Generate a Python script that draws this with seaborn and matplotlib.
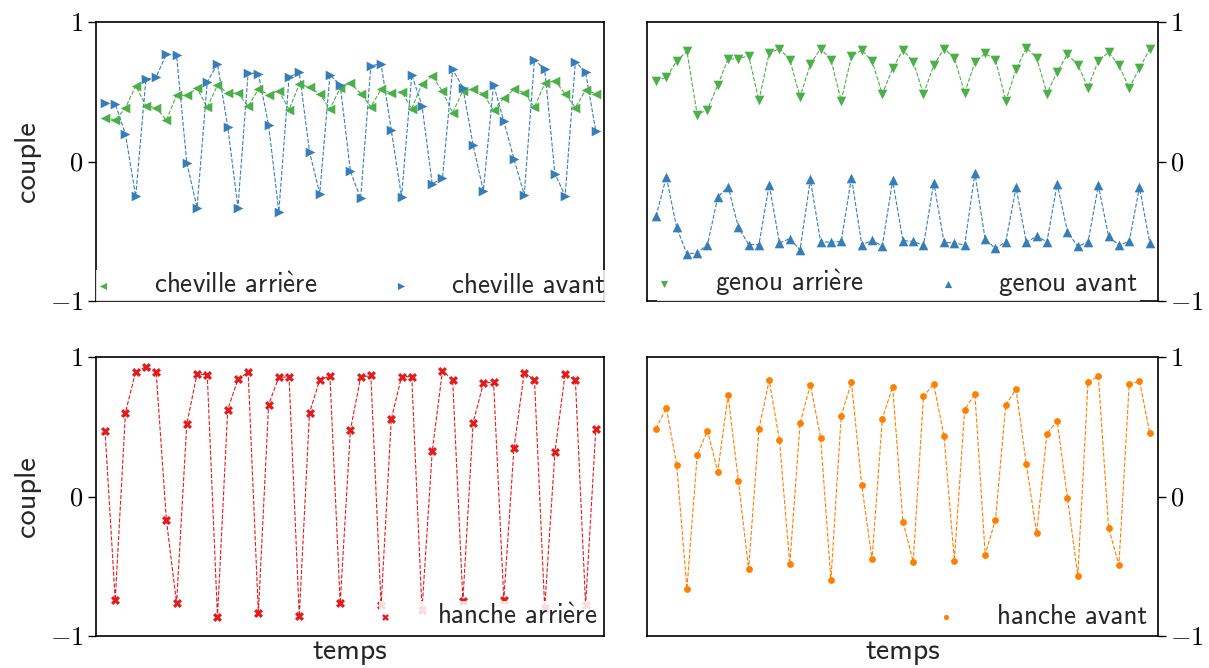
import matplotlib
matplotlib.use("Agg")
import matplotlib.pyplot as plt
import seaborn as sns
from matplotlib.ticker import FixedLocator, FixedFormatter

# ---------------- data ----------------
temps = list(range(1, 50))

cheville_arriere = [0.315, 0.298, 0.384, 0.543, 0.40, 0.386, 0.296, 0.475, 0.475, 0.525,
                    0.389, 0.547, 0.49, 0.49, 0.396, 0.517, 0.48, 0.508, 0.372, 0.553,
                    0.534, 0.484, 0.377, 0.527, 0.564, 0.487, 0.391, 0.517, 0.491, 0.50,
                    0.379, 0.556, 0.615, 0.503, 0.35, 0.508, 0.517, 0.484, 0.367, 0.455,
                    0.517, 0.494, 0.389, 0.56, 0.58, 0.484, 0.386, 0.512, 0.487]
cheville_avant = [0.42, 0.415, 0.195, -0.25, 0.59, 0.605, 0.77, 0.76, -0.01, -0.33,
                  0.57, 0.70, 0.25, -0.33, 0.635, 0.63, 0.26, -0.36, 0.605, 0.64,
                  0.07, -0.23, 0.62, 0.55, -0.07, -0.265, 0.687, 0.70, 0.224, -0.254,
                  0.62, 0.40, -0.16, -0.12, 0.66, 0.53, 0.117, -0.21, 0.55, 0.29,
                  0.016, -0.237, 0.73, 0.66, -0.087, -0.246, 0.716, 0.64, 0.217]
genou_arriere = [0.577, 0.604, 0.718, 0.792, 0.336, 0.372, 0.548, 0.735, 0.737, 0.758,
                 0.439, 0.777, 0.809, 0.73, 0.463, 0.696, 0.809, 0.73, 0.436, 0.754,
                 0.799, 0.72, 0.484, 0.668, 0.799, 0.716, 0.482, 0.69, 0.809, 0.744,
                 0.491, 0.711, 0.775, 0.73, 0.434, 0.66, 0.814, 0.744, 0.487, 0.641,
                 0.77, 0.692, 0.53, 0.723, 0.782, 0.692, 0.525, 0.67, 0.806]
genou_avant = [-0.392, -0.11, -0.473, -0.662, -0.655, -0.597, -0.256, -0.18, -0.47, -0.595,
               -0.597, -0.165, -0.585, -0.552, -0.633, -0.129, -0.576, -0.578, -0.573, -0.115,
               -0.597, -0.566, -0.604, -0.136, -0.567, -0.573, -0.602, -0.151, -0.58, -0.583,
               -0.60, -0.084, -0.559, -0.623, -0.576, -0.186, -0.58, -0.535, -0.576, -0.16,
               -0.504, -0.609, -0.576, -0.172, -0.537, -0.60, -0.573, -0.184, -0.583]
hanche_arriere = [0.472, -0.742, 0.601, 0.895, 0.93, 0.895, -0.165, -0.766, 0.52, 0.878,
                  0.873, -0.864, 0.622, 0.84, 0.892, -0.835, 0.658, 0.856, 0.856, -0.857,
                  0.599, 0.837, 0.864, -0.766, 0.477, 0.854, 0.868, -0.78, 0.556, 0.859,
                  0.859, -0.814, 0.324, 0.899, 0.837, -0.747, 0.53, 0.811, 0.821, -0.74,
                  0.35, 0.888, 0.837, -0.80, 0.319, 0.88, 0.837, -0.778, 0.484]
hanche_avant = [0.487, 0.635, 0.229, -0.662, 0.298, 0.472, 0.179, 0.727, 0.114, -0.521,
                0.482, 0.833, 0.403, -0.485, 0.525, 0.801, 0.422, -0.60, 0.579, 0.818,
                0.079, -0.451, 0.558, 0.787, -0.18, -0.468, 0.72, 0.804, 0.432, -0.459,
                0.621, 0.735, -0.418, -0.165, 0.658, 0.768, 0.231, -0.263, 0.451, 0.541,
                -0.012, -0.568, 0.821, 0.861, -0.227, -0.49, 0.806, 0.828, 0.456]

labels = ["cheville arrière", "cheville avant", "genou arrière", "genou avant",
          "hanche arrière", "hanche avant"]
ytick_values = [-1, 0, 1]
ytick_labels = ["$-1$", "$0$", "$1$"]
xlabel = "temps"
ylabel = "couple"

# ---------------- style ----------------
sns.set_theme(style="white")
plt.rcParams.update({
    "font.family": ["cmss10", "DejaVu Sans"],
    "mathtext.fontset": "cm",
    "axes.unicode_minus": False,
    "axes.edgecolor": "black",
    "axes.linewidth": 1.2,
    "ytick.color": "black",
    "ytick.major.size": 5.5,
    "ytick.major.width": 1.0,
    "ytick.direction": "out",
})

pal = sns.color_palette("Set1")
RED, BLUE, GREEN, ORANGE = pal[0], pal[1], pal[2], pal[4]
FS_TICK = 19
FS_LEG = 19.5
FS_LAB = 21.5


def tex_label(s):
    return s.replace("è", r"$\mathsf{\grave{e}}$")


fig = plt.figure(figsize=(12.09, 6.68), dpi=100)
W, H = 1209, 668


def rect(x0, y0, x1, y1):
    return [x0 / W, 1 - y1 / H, (x1 - x0) / W, (y1 - y0) / H]


panels = [
    dict(r=rect(96, 22, 604, 301), side="left", loc="lower left", anchor=(0.0, 0.0),
         ncol=2, series=[(labels[0], cheville_arriere, "<", GREEN, 48),
                         (labels[1], cheville_avant, ">", BLUE, 48)], xl=False),
    dict(r=rect(647, 22, 1158, 301), side="right", loc="lower left", anchor=(0.02, 0.0),
         ncol=2, series=[(labels[2], genou_arriere, "v", GREEN, 48),
                         (labels[3], genou_avant, "^", BLUE, 48)], xl=False),
    dict(r=rect(96, 357, 604, 636), side="left", loc="lower right", anchor=(0.9915, 0.015),
         ncol=1, series=[(labels[4], hanche_arriere, "X", RED, 42)], xl=True),
    dict(r=rect(647, 357, 1158, 636), side="right", loc="lower right", anchor=(0.984, 0.015),
         ncol=1, series=[(labels[5], hanche_avant, "o", ORANGE, 24)], xl=True),
]

for p in panels:
    ax = fig.add_axes(p["r"])
    for lab, vals, mk, col, sz in p["series"]:
        sns.lineplot(x=temps, y=vals, ax=ax, color=col, linestyle="--",
                     linewidth=0.8, estimator=None, sort=False, legend=False)
        sns.scatterplot(x=temps, y=vals, ax=ax, color=col, marker=mk, s=sz,
                        linewidth=0, label=tex_label(lab), zorder=3)
    ax.set_xlim(0.12, 49.8)
    ax.set_ylim(-1, 1)
    ax.set_xticks([])
    ax.yaxis.set_major_locator(FixedLocator(ytick_values))
    ax.yaxis.set_major_formatter(FixedFormatter(ytick_labels))
    ax.tick_params(axis="y", labelsize=FS_TICK, left=(p["side"] == "left"),
                   right=(p["side"] == "right"),
                   labelleft=(p["side"] == "left"),
                   labelright=(p["side"] == "right"))
    if p["side"] == "left":
        ax.set_ylabel(ylabel, fontsize=22, labelpad=6)
    else:
        ax.set_ylabel("")
    ax.set_xlabel(xlabel if p["xl"] else "", fontsize=FS_LAB, labelpad=1.5)
    for s in ax.spines.values():
        s.set_visible(True)
        s.set_color("black")
    ax.legend(loc=p["loc"], bbox_to_anchor=p["anchor"], ncol=p["ncol"],
              fontsize=FS_LEG, frameon=True, framealpha=0.85, edgecolor="none",
              fancybox=False, markerscale=0.75, handlelength=0.3,
              handletextpad=1.74, columnspacing=2.95, borderpad=0.1,
              borderaxespad=0.0)

fig.savefig("out.png", dpi=100)
